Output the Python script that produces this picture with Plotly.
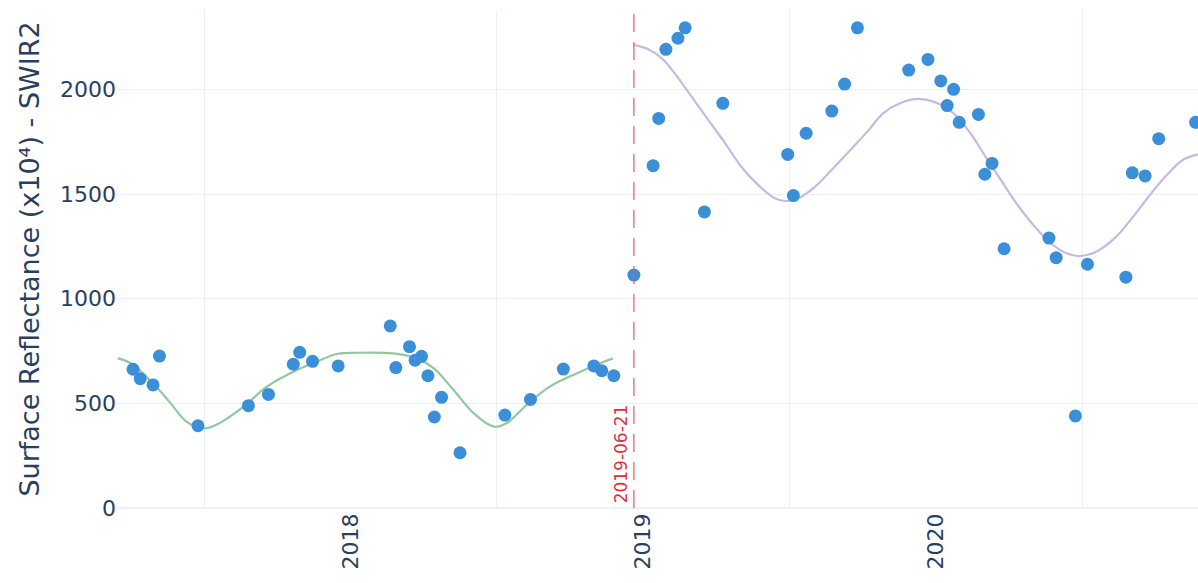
import plotly.graph_objects as go

# Observations: acquisition dates and SWIR2 surface reflectance (x10^4)
obs_dates = [
    "2017-10-04", "2017-10-13", "2017-10-29", "2017-11-06", "2017-12-24",
    "2018-02-25", "2018-03-22", "2018-04-22", "2018-04-30", "2018-05-16",
    "2018-06-17", "2018-08-21", "2018-08-28", "2018-09-14", "2018-09-21",
    "2018-09-29", "2018-10-07", "2018-10-15", "2018-10-24", "2018-11-16",
    "2019-01-11", "2019-02-12", "2019-03-25", "2019-05-02", "2019-05-12",
    "2019-05-27", "2019-06-21", "2019-07-15", "2019-07-22", "2019-07-31",
    "2019-08-15", "2019-08-24", "2019-09-17", "2019-10-10", "2019-12-30",
    "2020-01-06", "2020-01-22", "2020-02-23", "2020-03-10", "2020-03-26",
    "2020-05-29", "2020-06-22", "2020-07-08", "2020-07-16", "2020-07-24",
    "2020-07-31", "2020-08-24", "2020-09-01", "2020-09-10", "2020-09-25",
    "2020-11-20", "2020-11-29", "2020-12-23", "2021-01-07", "2021-02-24",
    "2021-03-04", "2021-03-20", "2021-04-06", "2021-05-22",
]
obs_values = [
    663, 618, 588, 726, 393,
    489, 543, 687, 744, 701,
    679, 870, 671, 771, 706,
    725, 632, 435, 529, 264,
    444, 519, 664, 679, 656,
    632, 1113, 1636, 1862, 2192,
    2245, 2295, 1415, 1934, 1690,
    1493, 1791, 1897, 2026, 2295,
    2093, 2144, 2041, 1923, 2001,
    1843, 1881, 1595, 1647, 1239,
    1290, 1196, 440, 1165, 1103,
    1602, 1587, 1765, 1843,
]

# Seasonal fit before the break
fit_pre_dates = [
    "2017-09-15", "2017-10-01", "2017-10-29", "2017-11-20", "2017-12-10",
    "2018-01-02", "2018-01-21", "2018-02-19", "2018-03-20", "2018-04-22",
    "2018-05-21", "2018-06-15", "2018-07-10", "2018-08-25", "2018-09-23",
    "2018-10-14", "2018-11-08", "2018-12-03", "2018-12-28", "2019-01-13",
    "2019-02-07", "2019-03-08", "2019-04-11", "2019-05-10", "2019-05-26",
]
fit_pre_values = [
    715, 692, 596, 500, 412,
    381, 408, 484, 580, 651,
    699, 736, 742, 739, 715,
    668, 564, 453, 389, 405,
    492, 580, 644, 692, 715,
]

# Seasonal fit after the break
fit_post_dates = [
    "2019-06-21", "2019-07-09", "2019-07-26", "2019-08-11", "2019-09-01",
    "2019-09-22", "2019-10-13", "2019-11-02", "2019-11-23", "2019-12-14",
    "2019-12-27", "2020-01-12", "2020-02-02", "2020-02-25", "2020-03-21",
    "2020-04-09", "2020-04-27", "2020-05-18", "2020-06-08", "2020-06-29",
    "2020-07-24", "2020-08-14", "2020-09-03", "2020-09-24", "2020-10-10",
    "2020-10-31", "2020-11-21", "2020-12-12", "2020-12-28", "2021-01-18",
    "2021-02-12", "2021-03-05", "2021-03-26", "2021-04-16", "2021-05-06",
    "2021-05-25",
]
fit_post_values = [
    2213, 2192, 2149, 2077, 1966,
    1854, 1743, 1631, 1544, 1480,
    1467, 1480, 1535, 1625, 1727,
    1806, 1886, 1934, 1955, 1942,
    1886, 1791, 1672, 1550, 1458,
    1355, 1270, 1217, 1204, 1225,
    1297, 1392, 1496, 1591, 1663,
    1690,
]

break_date = "2019-06-21"
x_range = ["2017-09-14", "2021-05-25"]
y_range = [0, 2380]
y_title = "Surface Reflectance (x10\u2074) - SWIR2"

FONT = "DejaVu Sans, Verdana, sans-serif"

fig = go.Figure()

fig.add_trace(go.Scatter(
    x=fit_pre_dates, y=fit_pre_values, mode="lines",
    line=dict(color="rgb(146,200,160)", width=2.2, shape="spline", smoothing=1.0),
    hoverinfo="skip",
))
fig.add_trace(go.Scatter(
    x=fit_post_dates, y=fit_post_values, mode="lines",
    line=dict(color="rgb(196,186,228)", width=2.2, shape="spline", smoothing=1.0),
    hoverinfo="skip",
))
fig.add_trace(go.Scatter(
    x=obs_dates, y=obs_values, mode="markers",
    marker=dict(color="#3b8fd8", size=13),
))

# Break marker
fig.add_shape(
    type="line", xref="x", yref="paper",
    x0=break_date, x1=break_date, y0=0, y1=1,
    line=dict(color="rgba(232,90,90,0.8)", width=1.5, dash="18px,10px"),
)
fig.add_annotation(
    x=break_date, xref="x", y=0, yref="paper",
    text=break_date, showarrow=False, textangle=-90,
    xanchor="right", yanchor="bottom", xshift=-1, yshift=3,
    font=dict(family=FONT, size=17, color="rgb(220,50,60)"),
)

fig.update_layout(
    template="plotly_white",
    width=1198, height=583,
    margin=dict(l=117, r=0, t=10, b=75),
    showlegend=False,
    font=dict(family=FONT, color="#2a3f5f"),
    xaxis=dict(
        range=x_range, type="date",
        tick0="2018-01-01", dtick="M12", tickformat="%Y",
        ticklabelmode="period", tickangle=-90,
        tickfont=dict(size=22), showgrid=True, zeroline=False,
    ),
    yaxis=dict(
        range=y_range, dtick=500,
        tickfont=dict(size=22),
        title=dict(text=y_title, font=dict(size=27), standoff=12),
    ),
)

fig.write_html("out.html")
